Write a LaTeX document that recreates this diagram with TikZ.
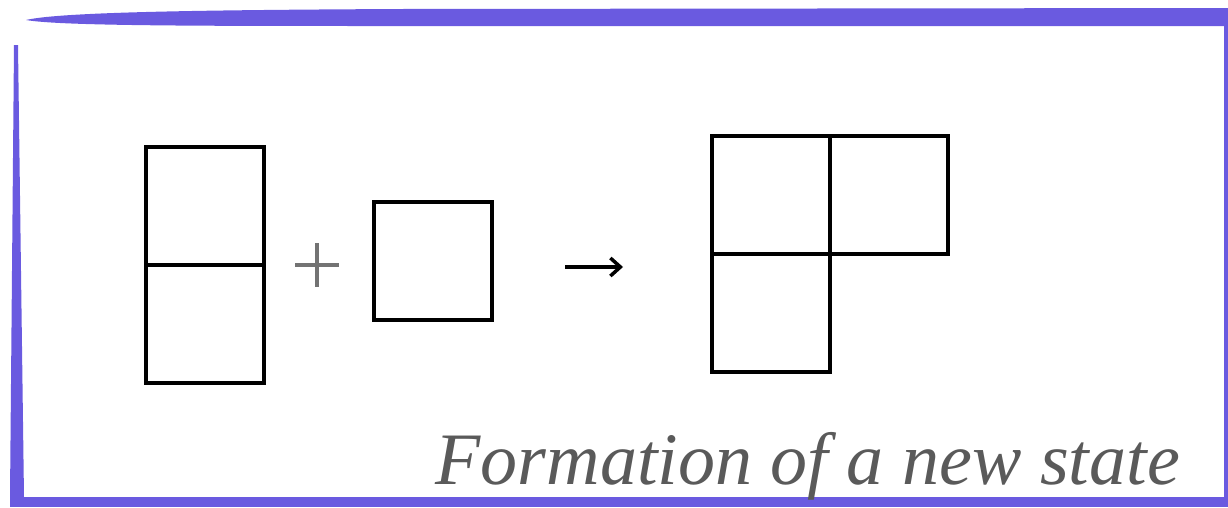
\documentclass[tikz,border=0pt]{standalone}
\usepackage{fontspec}
\newfontfamily\capfont{Liberation Serif}
\usetikzlibrary{arrows.meta}
\definecolor{frame}{RGB}{106,90,224}
\definecolor{txtgray}{RGB}{90,90,90}
\begin{document}
\begin{tikzpicture}[x=1pt,y=-1pt,
  cell/.style={draw=black,line width=4pt,minimum size=118pt,inner sep=0pt,outer sep=0pt,anchor=north west},
  framefill/.style={fill=frame,draw=none},
  plusline/.style={draw=txtgray!85,line width=3.2pt}]
\useasboundingbox (0,0) rectangle (1228,507);
% frame
\fill[framefill] (26,20) .. controls (60,12) and (200,10) .. (400,9) -- (1228,8) -- (1228,26) -- (400,26) .. controls (200,26) and (60,26) .. (26,20) -- cycle;
\fill[framefill] (1224,26) rectangle (1228,497);
\fill[framefill] (14,45) -- (18,45) -- (24,497) -- (10,497) -- cycle;
\fill[framefill] (10,497) rectangle (1228,507);
% left stack
\node[cell] (a1) at (146,147) {};
\node[cell] (a2) at (146,265) {};
% plus
\coordinate (pl) at (295,265);
\coordinate (pr) at (339,265);
\coordinate (pt) at (317,243);
\coordinate (pb) at (317,287);
\draw[plusline] (pl) -- (pr);
\draw[plusline] (pt) -- (pb);
% single
\node[cell] (b1) at (374,202) {};
% arrow
\coordinate (arS) at (565,267);
\coordinate (arE) at (623,267);
\draw[line width=3.5pt,-{Straight Barb[length=10pt,width=18pt,line width=3.5pt]}] (arS) -- (arE);
% right L shape
\node[cell] (c1) at (712,136) {};
\node[cell] (c2) at (830,136) {};
\node[cell] (c3) at (712,254) {};
% caption
\node[text=txtgray,font=\capfont\fontsize{74}{74}\selectfont\itshape,anchor=base east,inner sep=0pt] (cap) at (1180,484) {Formation of a new state};
\end{tikzpicture}
\end{document}
